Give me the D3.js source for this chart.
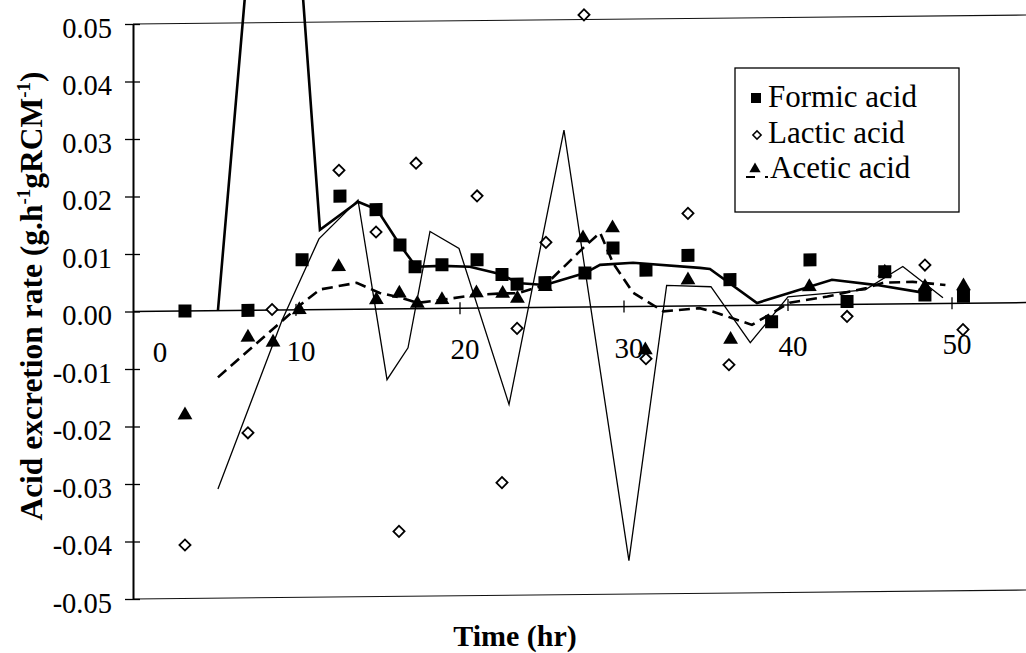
<!DOCTYPE html>
<html>
<head>
<meta charset="utf-8">
<script src="https://cdn.jsdelivr.net/npm/d3@7"></script>
<style>
  html, body { margin: 0; padding: 0; background: #fff; }
  svg { display: block; font-family: "Liberation Serif", "Times New Roman", serif; }
</style>
</head>
<body>
<svg id="chart" width="1026" height="653"></svg>
<script>
// Sampling times (hr) and excretion rates (g.h-1 gRCM-1) per acid
const formicT = [3.23, 7.07, 10.37, 12.68, 14.88, 16.34, 17.26, 18.9, 21.04, 22.56, 23.48, 25.18, 27.62, 29.33, 31.34, 33.9, 36.46, 39.0, 41.34, 43.6, 45.9, 48.35, 50.7];
const formic  = [0, 0, 0.0087, 0.0197, 0.0173, 0.0111, 0.0073, 0.0076, 0.0084, 0.0058, 0.0041, 0.0043, 0.0059, 0.0102, 0.0063, 0.0088, 0.0045, -0.0029, 0.0078, 0.0005, 0.0056, 0.0015, 0.0012];

const lacticT = [3.23, 7.07, 8.54, 12.62, 14.88, 16.28, 17.32, 21.04, 22.56, 23.48, 25.24, 27.56, 31.34, 33.9, 36.4, 43.6, 48.35, 50.67];
const lactic  = [-0.0407, -0.0213, 0.0001, 0.0242, 0.0134, -0.0387, 0.0253, 0.0195, -0.0304, -0.0036, 0.0113, 0.0508, -0.0091, 0.0161, -0.0103, -0.0021, 0.0067, -0.0046];

const aceticT = [3.23, 7.07, 8.6, 10.2, 12.6, 14.9, 16.3, 17.4, 18.9, 21.0, 22.6, 23.5, 25.2, 27.5, 29.3, 31.3, 33.9, 36.5, 41.3, 45.9, 48.35, 50.7];
const acetic  = [-0.0181, -0.0047, -0.0056, 0.0000, 0.0074, 0.0016, 0.0027, 0.0009, 0.0015, 0.0026, 0.0025, 0.0016, 0.0036, 0.0120, 0.0137, -0.0076, 0.0045, -0.0059, 0.0031, 0.0055, 0.0029, 0.0030];

// Smoothed trend curves for each acid
const formicFitT = [5.24, 8.8, 11.46, 13.78, 14.94, 16.34, 17.32, 18.9, 20.6, 22.56, 23.48, 25.18, 27.62, 28.54, 30.55, 34.63, 35.24, 38.11, 40.12, 42.68, 45.43, 48.05];
const formicFit  = [0.0000, 0.118, 0.0139, 0.0187, 0.0173, 0.0111, 0.0073, 0.0074, 0.0072, 0.0058, 0.0043, 0.0039, 0.0059, 0.0073, 0.0076, 0.0066, 0.0064, 0.0004, 0.0021, 0.0043, 0.0033, 0.0020];

const lacticFitT = [5.24, 9.15, 11.4, 13.78, 15.55, 16.83, 18.17, 19.94, 22.99, 26.34, 30.3, 32.6, 35.3, 37.7, 40.0, 44.7, 47.0, 49.45];
const lacticFit  = [-0.0310, -0.0018, 0.0123, 0.0190, -0.0123, -0.0068, 0.0134, 0.0104, -0.0168, 0.0308, -0.0442, 0.0036, 0.0033, -0.0065, 0.0014, 0.0025, 0.0065, 0.0010];

const aceticFitT = [5.24, 10.2, 11.46, 13.7, 15.1, 16.3, 17.4, 18.9, 21.0, 22.6, 23.5, 25.2, 27.6, 28.54, 29.33, 30.55, 32.4, 34.6, 35.4, 37.8, 40.1, 42.4, 44.8, 45.8, 47.6, 49.6];
const aceticFit  = [-0.0116, 0.0007, 0.0035, 0.0046, 0.0028, 0.0020, 0.0010, 0.0015, 0.0023, 0.0025, 0.0025, 0.0039, 0.0105, 0.0129, 0.0076, 0.0024, -0.0009, -0.0004, -0.0010, -0.0034, 0.0004, 0.0014, 0.0028, 0.0037, 0.0038, 0.0032];

const seriesNames = ["Formic acid", "Lactic acid", "Acetic acid"];
const xTicks = [0, 10, 20, 30, 40, 50];
const yTicks = [0.05, 0.04, 0.03, 0.02, 0.01, 0, -0.01, -0.02, -0.03, -0.04, -0.05];
const xTitle = "Time (hr)";

const W = 1026, H = 653;
const axisX0 = 133;
const LEAN = -0.01;           // slight slope of the horizontal rules

const x = d3.scaleLinear().domain([0, 55]).range([132, 1034]);
const y = d3.scaleLinear().domain([-0.05, 0.05]).range([599, 24]);

const svg = d3.select("#chart");
svg.append("rect").attr("width", W).attr("height", H).attr("fill", "#fff");

// plot layer with a gentle lean so horizontal rules tilt slightly
const plot = svg.append("g")
  .attr("transform", `matrix(1,${LEAN},0,1,0,${-LEAN * axisX0})`);

// top and bottom frame rules
[0.05, -0.05].forEach(v => {
  plot.append("line")
    .attr("x1", axisX0).attr("x2", x(55))
    .attr("y1", y(v)).attr("y2", y(v))
    .attr("stroke", "#111").attr("stroke-width", 1.1);
});
// zero line (x axis)
plot.append("line")
  .attr("x1", axisX0).attr("x2", x(55))
  .attr("y1", y(0)).attr("y2", y(0))
  .attr("stroke", "#000").attr("stroke-width", 1.5);
plot.selectAll(".xtick").data(xTicks.filter(d => d > 0)).join("line")
  .attr("class", "xtick")
  .attr("x1", d => x(d)).attr("x2", d => x(d))
  .attr("y1", y(0) - 6).attr("y2", y(0) + 6)
  .attr("stroke", "#000").attr("stroke-width", 1.3);

// x tick labels, nudged clear of the y axis
svg.selectAll(".xlab").data(xTicks).join("text")
  .attr("class", "xlab")
  .attr("x", d => Math.max(x(d) + 5, axisX0 + 27))
  .attr("y", d => {
    const px = Math.max(x(d) + 5, axisX0 + 27);
    return y(0) + LEAN * (px - axisX0) + 41 + 10;
  })
  .attr("text-anchor", "middle")
  .attr("font-size", 29)
  .text(d => d);

// y axis
const yAxis = svg.append("g")
  .attr("transform", `translate(${axisX0},0)`)
  .call(d3.axisLeft(y).tickValues(yTicks).tickFormat(d => d.toFixed(2))
        .tickSizeInner(8).tickSizeOuter(0).tickPadding(13));
yAxis.select(".domain").attr("stroke", "#000").attr("stroke-width", 2);
yAxis.selectAll(".tick line").attr("x1", 7).attr("stroke", "#000").attr("stroke-width", 1.3);
yAxis.selectAll(".tick text")
  .attr("font-family", "Liberation Serif, Times New Roman, serif")
  .attr("font-size", 28.5).attr("fill", "#000").attr("dy", "0.46em");

// markers
const sq = d3.symbol(d3.symbolSquare, 169)();
const dia = d3.symbol(d3.symbolSquare, 62)();
const tri = d3.symbol(d3.symbolTriangle, 95)();

plot.append("g").selectAll("path").data(d3.zip(formicT, formic)).join("path")
  .attr("d", sq).attr("fill", "#000")
  .attr("transform", d => `translate(${x(d[0])},${y(d[1])})`);

plot.append("g").selectAll("path").data(d3.zip(aceticT, acetic)).join("path")
  .attr("d", tri).attr("fill", "#000")
  .attr("transform", d => `translate(${x(d[0])},${y(d[1])})`);

plot.append("g").selectAll("path").data(d3.zip(lacticT, lactic)).join("path")
  .attr("d", dia).attr("fill", "#fff").attr("stroke", "#000").attr("stroke-width", 1.8)
  .attr("transform", d => `translate(${x(d[0])},${y(d[1])}) rotate(45)`);

// trend curves
const line = d3.line().x(d => x(d[0])).y(d => y(d[1]));
plot.append("path").datum(d3.zip(formicFitT, formicFit))
  .attr("d", line).attr("fill", "none").attr("stroke", "#000").attr("stroke-width", 2.6)
  .attr("stroke-linejoin", "miter");
plot.append("path").datum(d3.zip(lacticFitT, lacticFit))
  .attr("d", line).attr("fill", "none").attr("stroke", "#000").attr("stroke-width", 1.3);
plot.append("path").datum(d3.zip(aceticFitT, aceticFit))
  .attr("d", line).attr("fill", "none").attr("stroke", "#000").attr("stroke-width", 2.6)
  .attr("stroke-dasharray", "11,6");

// legend
const lg = svg.append("g");
lg.append("rect").attr("x", 735).attr("y", 68).attr("width", 224).attr("height", 144)
  .attr("fill", "#fff").attr("stroke", "#000").attr("stroke-width", 1.3);
const rows = [98, 135, 170];
lg.append("path").attr("d", d3.symbol(d3.symbolSquare, 100)())
  .attr("transform", `translate(756,${rows[0]})`).attr("fill", "#000");
lg.append("path").attr("d", d3.symbol(d3.symbolSquare, 34)())
  .attr("transform", `translate(757,${rows[1]}) rotate(45)`)
  .attr("fill", "#fff").attr("stroke", "#000").attr("stroke-width", 1.5);
lg.append("path").attr("d", d3.symbol(d3.symbolTriangle, 55)())
  .attr("transform", `translate(755,${rows[2] - 1})`).attr("fill", "#000");
lg.append("line").attr("x1", 746).attr("x2", 768).attr("y1", 177).attr("y2", 177)
  .attr("stroke", "#000").attr("stroke-width", 2).attr("stroke-dasharray", "9,10");
lg.selectAll("text").data(seriesNames).join("text")
  .attr("x", (d, i) => i === 2 ? 770 : 768)
  .attr("y", (d, i) => [107, 143, 178][i])
  .attr("font-size", 31)
  .text(d => d);

// axis titles
svg.append("text")
  .attr("x", 515).attr("y", 646)
  .attr("text-anchor", "middle")
  .attr("font-size", 30).attr("font-weight", "bold")
  .text(xTitle);

const yt = svg.append("text")
  .attr("transform", "translate(42,296) rotate(-90)")
  .attr("text-anchor", "middle")
  .attr("font-size", 31.5).attr("font-weight", "bold");
yt.append("tspan").text("Acid excretion rate (g.h");
yt.append("tspan").attr("dy", -12).attr("font-size", 19).text("-1");
yt.append("tspan").attr("dy", 12).text("gRCM");
yt.append("tspan").attr("dy", -12).attr("font-size", 19).text("-1");
yt.append("tspan").attr("dy", 12).text(")");
</script>
</body>
</html>
